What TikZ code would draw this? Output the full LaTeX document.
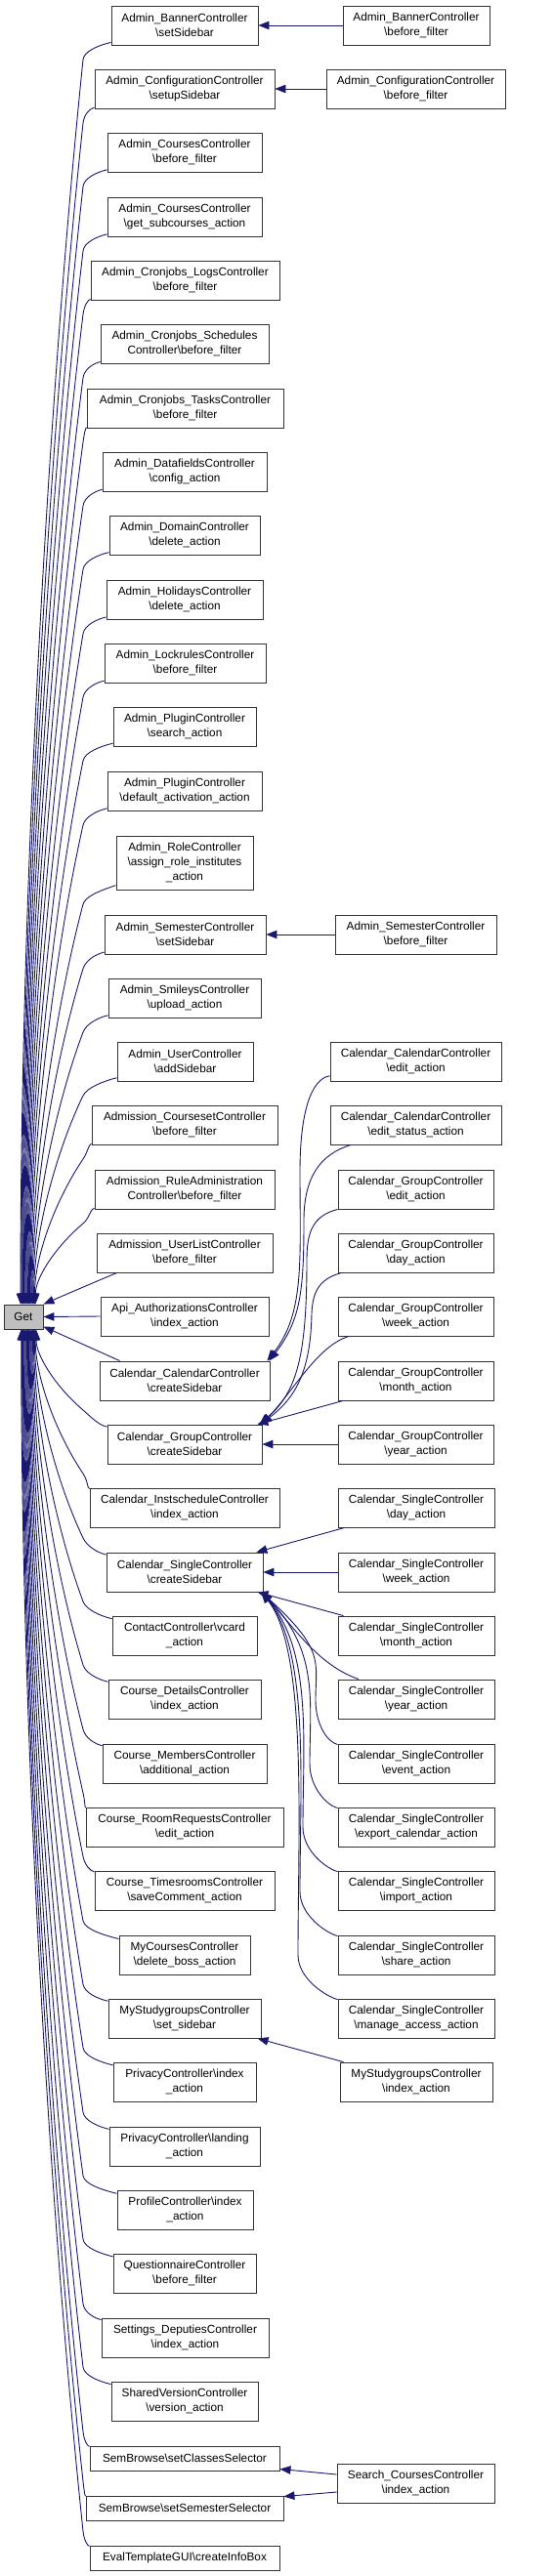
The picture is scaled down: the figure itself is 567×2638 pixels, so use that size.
\documentclass[tikz,border=0pt]{standalone}
\usepackage{fontspec}
\setmainfont{Liberation Sans}
\usetikzlibrary{arrows.meta}
\definecolor{mblue}{HTML}{191970}
\definecolor{getfill}{HTML}{BFBFBF}
\newcommand\myBS{\textbackslash}
\tikzset{
  box/.style={draw=black!80, fill=white, line width=0.9pt, align=center, inner xsep=3pt, inner ysep=0pt, minimum height=40pt, font=\fontsize{11.8}{15}\selectfont},
  cn/.style={draw=mblue, line width=0.9pt, -{Triangle[length=11pt,width=8.5pt]}}
}
\begin{document}
\begin{tikzpicture}[x=1pt,y=-1pt]
\fill[white] (0,0) rectangle (567,2638);
\useasboundingbox (0,0) rectangle (567,2638);
% root
\node[box, fill=getfill, minimum width=40pt, minimum height=25pt] (Get) at (24,1348.5) {Get};
% column 1
\node[box, minimum width=150pt] (n1) at (189,26) {Admin\_BannerController\\\myBS setSidebar};
\node[box, minimum width=184pt] (n2) at (189,91) {Admin\_ConfigurationController\\\myBS setupSidebar};
\node[box, minimum width=158pt] (n3) at (189,156) {Admin\_CoursesController\\\myBS before\_filter};
\node[box, minimum width=158pt] (n4) at (189,222) {Admin\_CoursesController\\\myBS get\_subcourses\_action};
\node[box, minimum width=193pt] (n5) at (189.5,287) {Admin\_Cronjobs\_LogsController\\\myBS before\_filter};
\node[box, minimum width=172pt] (n6) at (189,352) {Admin\_Cronjobs\_Schedules\\Controller\myBS before\_filter};
\node[box, minimum width=201pt] (n7) at (189.5,418) {Admin\_Cronjobs\_TasksController\\\myBS before\_filter};
\node[box, minimum width=168pt] (n8) at (189,483) {Admin\_DatafieldsController\\\myBS config\_action};
\node[box, minimum width=154pt] (n9) at (189,548) {Admin\_DomainController\\\myBS delete\_action};
\node[box, minimum width=160pt] (n10) at (189,614) {Admin\_HolidaysController\\\myBS delete\_action};
\node[box, minimum width=165pt] (n11) at (189.5,679) {Admin\_LockrulesController\\\myBS before\_filter};
\node[box, minimum width=146pt] (n12) at (189,744) {Admin\_PluginController\\\myBS search\_action};
\node[box, minimum width=158pt] (n13) at (189,810) {Admin\_PluginController\\\myBS default\_activation\_action};
\node[box, minimum width=140pt, minimum height=55pt] (n14) at (189,883.5) {Admin\_RoleController\\\myBS assign\_role\_institutes\\\_action};
\node[box, minimum width=165pt] (n15) at (189.5,957) {Admin\_SemesterController\\\myBS setSidebar};
\node[box, minimum width=156pt] (n16) at (189,1022) {Admin\_SmileysController\\\myBS upload\_action};
\node[box, minimum width=139pt] (n17) at (189.5,1087) {Admin\_UserController\\\myBS addSidebar};
\node[box, minimum width=190pt] (n18) at (189,1152) {Admission\_CoursesetController\\\myBS before\_filter};
\node[box, minimum width=184pt] (n19) at (189,1218) {Admission\_RuleAdministration\\Controller\myBS before\_filter};
\node[box, minimum width=180pt] (n20) at (189,1283) {Admission\_UserListController\\\myBS before\_filter};
\node[box, minimum width=172pt] (n21) at (189,1348) {Api\_AuthorizationsController\\\myBS index\_action};
\node[box, minimum width=174pt] (n22) at (189,1414) {Calendar\_CalendarController\\\myBS createSidebar};
\node[box, minimum width=158pt] (n23) at (189,1479) {Calendar\_GroupController\\\myBS createSidebar};
\node[box, minimum width=194pt] (n24) at (189,1544) {Calendar\_InstscheduleController\\\myBS index\_action};
\node[box, minimum width=160pt] (n25) at (189,1610) {Calendar\_SingleController\\\myBS createSidebar};
\node[box, minimum width=148pt] (n26) at (189,1675) {ContactController\myBS vcard\\\_action};
\node[box, minimum width=156pt] (n27) at (189,1740) {Course\_DetailsController\\\myBS index\_action};
\node[box, minimum width=168pt] (n28) at (189,1806) {Course\_MembersController\\\myBS additional\_action};
\node[box, minimum width=202pt] (n29) at (189,1871) {Course\_RoomRequestsController\\\myBS edit\_action};
\node[box, minimum width=184pt] (n30) at (189,1936) {Course\_TimesroomsController\\\myBS saveComment\_action};
\node[box, minimum width=134pt] (n31) at (189,2002) {MyCoursesController\\\myBS delete\_boss\_action};
\node[box, minimum width=156pt] (n32) at (189,2067) {MyStudygroupsController\\\myBS set\_sidebar};
\node[box, minimum width=146pt] (n33) at (189,2132) {PrivacyController\myBS index\\\_action};
\node[box, minimum width=154pt] (n34) at (189,2198) {PrivacyController\myBS landing\\\_action};
\node[box, minimum width=139pt] (n35) at (189.5,2263) {ProfileController\myBS index\\\_action};
\node[box, minimum width=146pt] (n36) at (189,2328) {QuestionnaireController\\\myBS before\_filter};
\node[box, minimum width=171pt] (n37) at (189.5,2394) {Settings\_DeputiesController\\\myBS index\_action};
\node[box, minimum width=150pt] (n38) at (189,2459) {SharedVersionController\\\myBS version\_action};
\node[box, minimum width=194pt, minimum height=25pt] (n39) at (189,2517.5) {SemBrowse\myBS setClassesSelector};
\node[box, minimum width=202pt, minimum height=25pt] (n40) at (189,2568.5) {SemBrowse\myBS setSemesterSelector};
\node[box, minimum width=194pt, minimum height=25pt] (n41) at (189,2619.5) {EvalTemplateGUI\myBS createInfoBox};
% column 2
\node[box, minimum width=150pt] (bbf) at (426,26) {Admin\_BannerController\\\myBS before\_filter};
\node[box, minimum width=183pt] (cbf) at (425.5,91) {Admin\_ConfigurationController\\\myBS before\_filter};
\node[box, minimum width=165pt] (sbf) at (425.5,957) {Admin\_SemesterController\\\myBS before\_filter};
\node[box, minimum width=175pt] (cced) at (425.5,1087) {Calendar\_CalendarController\\\myBS edit\_action};
\node[box, minimum width=175pt] (cces) at (425.5,1152) {Calendar\_CalendarController\\\myBS edit\_status\_action};
\node[box, minimum width=159pt] (cged) at (425.5,1218) {Calendar\_GroupController\\\myBS edit\_action};
\node[box, minimum width=159pt] (cgda) at (425.5,1283) {Calendar\_GroupController\\\myBS day\_action};
\node[box, minimum width=159pt] (cgwe) at (425.5,1348) {Calendar\_GroupController\\\myBS week\_action};
\node[box, minimum width=159pt] (cgmo) at (425.5,1414) {Calendar\_GroupController\\\myBS month\_action};
\node[box, minimum width=159pt] (cgye) at (425.5,1479) {Calendar\_GroupController\\\myBS year\_action};
\node[box, minimum width=160pt] (csda) at (426,1544) {Calendar\_SingleController\\\myBS day\_action};
\node[box, minimum width=160pt] (cswe) at (426,1610) {Calendar\_SingleController\\\myBS week\_action};
\node[box, minimum width=160pt] (csmo) at (426,1675) {Calendar\_SingleController\\\myBS month\_action};
\node[box, minimum width=160pt] (csye) at (426,1740) {Calendar\_SingleController\\\myBS year\_action};
\node[box, minimum width=160pt] (csev) at (426,1806) {Calendar\_SingleController\\\myBS event\_action};
\node[box, minimum width=160pt] (csex) at (426,1871) {Calendar\_SingleController\\\myBS export\_calendar\_action};
\node[box, minimum width=160pt] (csim) at (426,1936) {Calendar\_SingleController\\\myBS import\_action};
\node[box, minimum width=160pt] (cssh) at (426,2002) {Calendar\_SingleController\\\myBS share\_action};
\node[box, minimum width=160pt] (csma) at (426,2067) {Calendar\_SingleController\\\myBS manage\_access\_action};
\node[box, minimum width=156pt] (msix) at (426,2132) {MyStudygroupsController\\\myBS index\_action};
\node[box, minimum width=161pt] (scix) at (425.5,2543) {Search\_CoursesController\\\myBS index\_action};
% edges from upper column-1 nodes into Get
\foreach \n/\xl/\yb [count=\i] in {n1/114/46, n2/97/111, n3/110/176, n4/110/242, n5/93/307, n6/103/372, n7/89/438, n8/105/503, n9/112/568, n10/109/634, n11/107/699, n12/116/764, n13/110/830, n14/119/911, n15/107/977, n16/111/1042, n17/120/1107, n18/94/1172, n19/97/1238}{
  \pgfmathsetmacro\qex{21+0.85*(\i-1)}
  \pgfmathsetmacro\qmy{\yb+15}
  \pgfmathsetmacro\qD{1336-\qmy}
  \pgfmathsetmacro\qca{\xl-0.4*(\xl-85)}
  \pgfmathsetmacro\qcc{85-0.55*(85-\qex)}
  \pgfmathsetmacro\qcy{\qmy+0.27*\qD}
  \pgfmathsetmacro\qdy{\qmy+0.66*\qD}
  \pgfmathsetmacro\qux{\qcc-85}
  \pgfmathsetmacro\quy{\qcy-\qmy}
  \pgfmathsetmacro\qlen{veclen(\qux,\quy)}
  \pgfmathsetmacro\qbx{85-9*\qux/\qlen}
  \pgfmathsetmacro\qby{\qmy-9*\quy/\qlen}
  \pgfmathsetmacro\qdx{\qex-24}
  \draw[cn] (\n) .. controls (\qca,\yb) and (\qbx,\qby) .. (85,\qmy) .. controls (\qcc,\qcy) and (\qex,\qdy) .. ([xshift=\qdx pt]Get.north);
}
% edges from lower column-1 nodes into Get
\foreach \n/\xl/\yt [count=\i] in {n23/110/1459, n24/92/1524, n25/109/1590, n26/115/1655, n27/111/1720, n28/105/1786, n29/88/1851, n30/97/1916, n31/122/1982, n32/111/2047, n33/116/2112, n34/112/2178, n35/120/2243, n36/116/2308, n37/104/2374, n38/114/2439, n39/92/2505, n40/88/2556, n41/92/2607}{
  \pgfmathsetmacro\qex{37-0.85*(\i-1)}
  \pgfmathsetmacro\qmy{\yt-15}
  \pgfmathsetmacro\qD{\qmy-1361}
  \pgfmathsetmacro\qca{\xl-0.4*(\xl-85)}
  \pgfmathsetmacro\qcc{85-0.55*(85-\qex)}
  \pgfmathsetmacro\qcy{\qmy-0.27*\qD}
  \pgfmathsetmacro\qdy{\qmy-0.66*\qD}
  \pgfmathsetmacro\qux{\qcc-85}
  \pgfmathsetmacro\quy{\qcy-\qmy}
  \pgfmathsetmacro\qlen{veclen(\qux,\quy)}
  \pgfmathsetmacro\qbx{85-9*\qux/\qlen}
  \pgfmathsetmacro\qby{\qmy-9*\quy/\qlen}
  \pgfmathsetmacro\qdx{\qex-24}
  \draw[cn] (\n) .. controls (\qca,\yt) and (\qbx,\qby) .. (85,\qmy) .. controls (\qcc,\qcy) and (\qex,\qdy) .. ([xshift=\qdx pt]Get.south);
}
% middle edges into Get
\draw[cn] ([xshift=21pt]n20.south west) .. controls (85,1318) and (62,1328) .. (Get.north east);
\draw[cn] (n21.west) -- (Get.east);
\draw[cn] ([xshift=21pt]n22.north west) -- ([yshift=3pt]Get.south east);
% column 2 to column 1
\draw[cn] (bbf) -- (n1);
\draw[cn] (cbf) -- (n2);
\draw[cn] (sbf) -- (n15);
\draw[cn] (cced) .. controls (318,1105) and (307,1140) .. (307,1200) .. controls (307,1290) and (312,1345) .. ([xshift=-3pt]n22.north east);
\draw[cn] (cces) .. controls (328,1182) and (311,1205) .. (311,1250) .. controls (311,1320) and (308,1352) .. ([xshift=-1pt]n22.north east);
\draw[cn] (cged) .. controls (320,1245) and (314,1262) .. (314,1290) .. controls (314,1385) and (305,1425) .. ([xshift=-3pt]n23.north east);
\draw[cn] (cgda) .. controls (325,1310) and (320,1325) .. (319,1345) .. controls (318,1400) and (305,1430) .. ([xshift=-2pt]n23.north east);
\draw[cn] (cgwe) .. controls (325,1378) and (300,1425) .. ([xshift=-1pt]n23.north east);
\draw[cn] (cgmo) -- (n23);
\draw[cn] (cgye) -- (n23);
\draw[cn] (csda) -- (n25);
\draw[cn] (cswe) -- (n25);
\draw[cn] (csmo) -- (n25);
\draw[cn] (csye) .. controls (325,1705) and (300,1665) .. ([xshift=-2pt]n25.south east);
\foreach \n/\yt/\bx in {csev/1786/323, csex/1851/317, csim/1916/310, cssh/1982/307, csma/2047/305}{
  \pgfmathsetmacro\qmy{\yt-45}
  \pgfmathsetmacro\qcy{\qmy-0.35*(\qmy-1630)}
  \pgfmathsetmacro\qcx{\bx+10}
  \draw[cn] (\n) .. controls (335,\yt-2) and (\bx,\yt-20) .. (\bx,\qmy) .. controls (\bx,\qcy) and (\qcx,1690) .. ([xshift=-2pt]n25.south east);
}
\draw[cn] (msix) -- (n32);
\draw[cn] ([yshift=9pt]scix.west) -- ([yshift=2pt]n39.south east);
\draw[cn] ([yshift=-9pt]scix.west) -- ([yshift=-1pt]n40.north east);
\end{tikzpicture}
\end{document}
